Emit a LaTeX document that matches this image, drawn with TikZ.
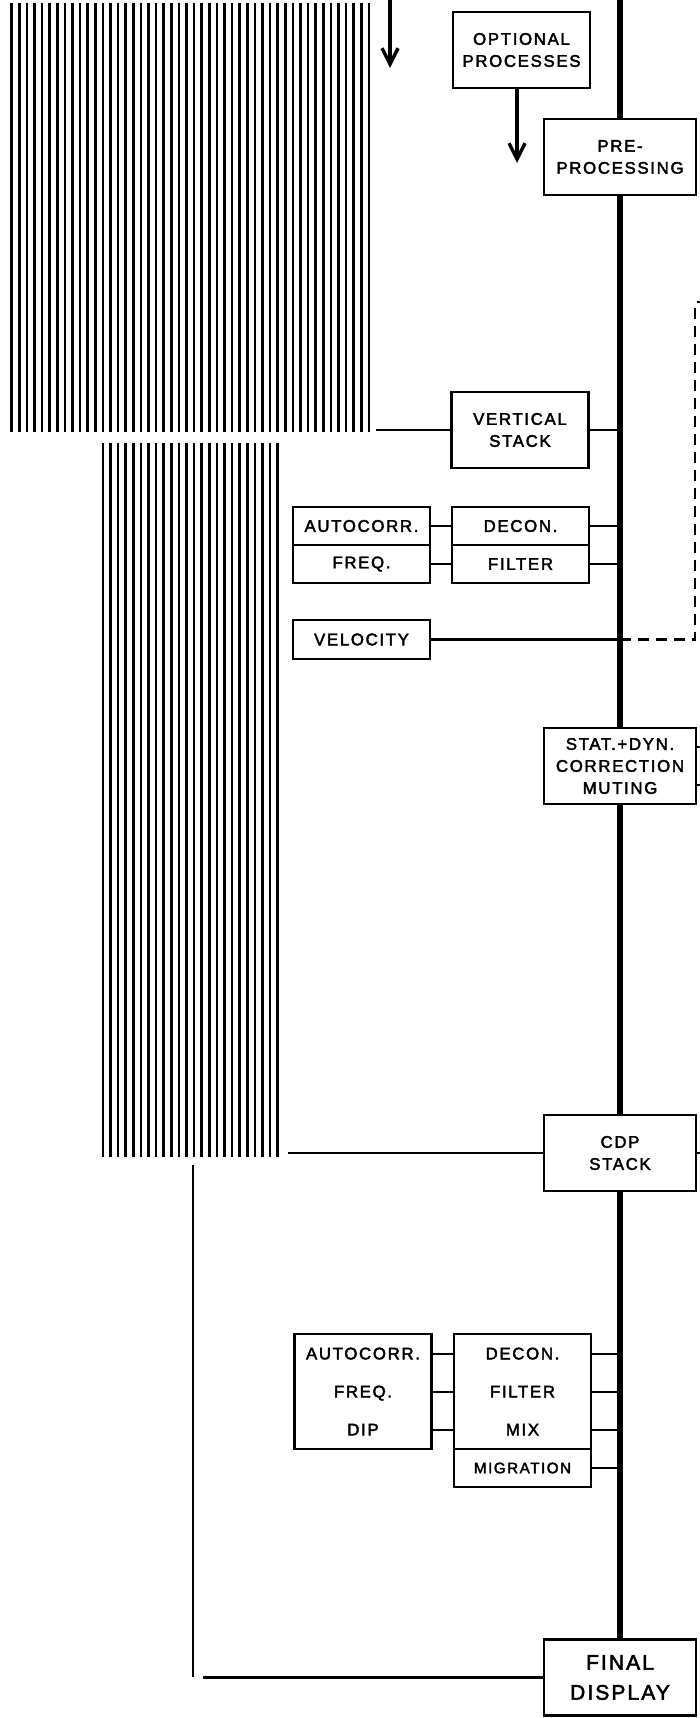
\documentclass[tikz,border=0pt]{standalone}
\usepackage{fontspec}
\setmainfont{Liberation Sans}
\newfontfamily\lbl[LetterSpace=10,FakeBold=2.5]{Liberation Sans}
\usetikzlibrary{arrows.meta}
\tikzset{
  box/.style={draw, line width=1.4pt, fill=white, inner sep=0pt, align=center,
    minimum width=76pt, minimum height=38pt, font=\lbl\fontsize{8.4}{11}\selectfont},
  lbox/.style={box, minimum width=68.5pt, minimum height=19pt},
  tallbox/.style={box, minimum width=68.5pt, minimum height=57.5pt, font=\lbl\fontsize{8.4}{19}\selectfont},
  stripe/.style={line width=1.25pt},
  mainline/.style={line width=2.7pt},
  conn/.style={line width=1.45pt},
  thinline/.style={line width=1.05pt},
  dashline/.style={line width=1.2pt, dash pattern=on 5.5pt off 3.5pt},
  arr/.style={line width=1.7pt, -{Straight Barb[length=8pt,width=8pt]}}
}
\begin{document}
\begin{tikzpicture}[x=0.5pt,y=-0.5pt]
\useasboundingbox (0,0) rectangle (700,1718);
% stripe blocks
\foreach \k in {0,...,47}{\draw[stripe] ({11.7+7.6*\k},3) -- ({11.7+7.6*\k},432);}
\foreach \k in {12,...,35}{\draw[stripe] ({11.7+7.6*\k},443) -- ({11.7+7.6*\k},1157);}
% main line
\coordinate (mtop) at (620,0);
\coordinate (mbot) at (620,1640);
\draw[mainline] (mtop) -- (mbot);
% boxes
\node[lbox, minimum height=38pt] (opt) at (521.5,50) {OPTIONAL\\PROCESSES};
\node[box] (pre) at (620,157) {PRE-\\PROCESSING};
\node[lbox, minimum height=38pt] (vs) at (520,430) {VERTICAL\\STACK};
\node[lbox] (ac1) at (361.5,526) {AUTOCORR.};
\node[lbox] (fq1) at (361.5,564) {FREQ.};
\node[lbox] (dc1) at (520.5,526) {DECON.};
\node[lbox] (fl1) at (520.5,564) {FILTER};
\node[lbox, minimum height=19.5pt] (vel) at (361.5,639.5) {VELOCITY};
\node[box] (stat) at (620,766) {STAT.+DYN.\\CORRECTION\\MUTING};
\node[box] (cdp) at (620,1153) {CDP\\STACK};
\node[tallbox] (ac2) at (363,1391.5) {AUTOCORR.\\FREQ.\\DIP};
\node[tallbox] (dc2) at (522.5,1391.5) {DECON.\\FILTER\\MIX};
\node[lbox, font=\lbl\fontsize{7.6}{10}\selectfont] (mig) at (522.5,1468) {MIGRATION};
\node[box, font=\lbl\fontsize{10.5}{15}\selectfont] (fin) at (620,1677.5) {FINAL\\DISPLAY};
% arrows
\coordinate (a1s) at (390,0);
\coordinate (a1e) at (390,68);
\draw[arr] (a1s) -- (a1e);
\coordinate (a2e) at (517,163);
\draw[arr] (opt.south -| a2e) -- (a2e);
% connectors
\coordinate (s1) at (376,430);
\draw[conn] (s1) -- (vs.west);
\draw[conn] (vs.east) -- (vs.east -| mtop);
\draw[conn] (ac1.east) -- (dc1.west);
\draw[conn] (fq1.east) -- (fl1.west);
\draw[conn] (dc1.east) -- (dc1.east -| mtop);
\draw[conn] (fl1.east) -- (fl1.east -| mtop);
\draw[conn] (vel.east) -- (vel.east -| mtop);
\coordinate (dbr) at (695,639.5);
\coordinate (dtr) at (695,302);
\coordinate (dte) at (700,302);
\draw[dashline] (vel.east -| mtop) -- (dbr) -- (dtr) -- (dte);
\coordinate (st1) at (700,747);
\coordinate (st2) at (700,785);
\draw[conn] (st1 -| stat.east) -- (st1);
\draw[conn] (st2 -| stat.east) -- (st2);
\coordinate (s2) at (288,1153);
\draw[conn] (s2) -- (cdp.west);
\coordinate (cs) at (700,1153);
\draw[conn] (cdp.east) -- (cs);
\coordinate (r1) at (0,1354);
\coordinate (r2) at (0,1392);
\coordinate (r3) at (0,1430);
\foreach \r in {r1,r2,r3}{
  \draw[conn] (ac2.east |- \r) -- (dc2.west |- \r);
  \draw[conn] (dc2.east |- \r) -- (mtop |- \r);
}
\draw[conn] (mig.east) -- (mig.east -| mtop);
\coordinate (t1) at (193,1165);
\coordinate (t2) at (193,1677);
\draw[thinline] (t1) -- (t2);
\coordinate (h1) at (203,1677.5);
\draw[conn] (h1) -- (fin.west);
\end{tikzpicture}
\end{document}
